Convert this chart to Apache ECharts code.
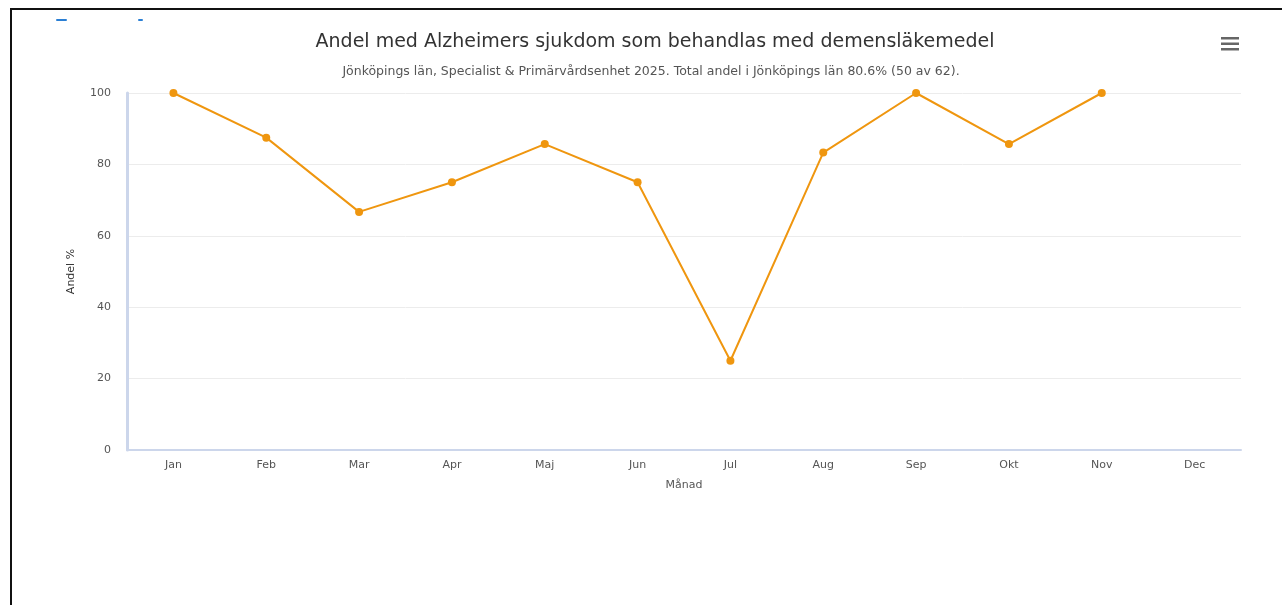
<!DOCTYPE html>
<html>
<head>
<meta charset="utf-8">
<script src="https://cdn.jsdelivr.net/npm/echarts@6/dist/echarts.min.js"></script>
<style>
  html, body { margin: 0; padding: 0; background: #fff; }
  #frame {
    position: absolute; left: 10px; top: 8px; width: 1272px; height: 597px;
    border-top: 2px solid #111; border-left: 2px solid #111; box-sizing: border-box;
  }
  #chart { position: absolute; left: 0; top: 0; width: 1282px; height: 605px; }
</style>
</head>
<body>
<div id="frame"></div>
<div id="chart"></div>
<script>
// 月份和数据
const months = ['Jan', 'Feb', 'Mar', 'Apr', 'Maj', 'Jun', 'Jul', 'Aug', 'Sep', 'Okt', 'Nov', 'Dec'];
const andel = [100, 87.5, 66.7, 75, 85.7, 75, 25, 83.3, 100, 85.7, 100, null];
const yTicks = [0, 20, 40, 60, 80, 100];

const titleText = 'Andel med Alzheimers sjukdom som behandlas med demensläkemedel';
const subText = 'Jönköpings län, Specialist & Primärvårdsenhet 2025. Total andel i Jönköpings län 80.6% (50 av 62).';

const font = '"DejaVu Sans", Verdana, sans-serif';
const chart = echarts.init(document.getElementById('chart'));

const option = {
    animation: false,
    title: [
        {
            text: titleText,
            left: 650, top: 28, textAlign: 'center',
            textStyle: { fontFamily: font, fontSize: 19, fontWeight: 'normal', color: '#333' }
        },
        {
            text: subText,
            left: 646, top: 60, textAlign: 'center',
            textStyle: { fontFamily: font, fontSize: 12.5, fontWeight: 'normal', color: '#555' }
        }
    ],
    grid: { left: 127, right: 41, top: 93, bottom: 155 },
    xAxis: {
        type: 'category',
        data: months,
        boundaryGap: true,
        name: 'Månad',
        nameLocation: 'middle',
        nameGap: 30,
        nameTextStyle: { fontFamily: font, fontSize: 11, color: '#555' },
        axisLine: { lineStyle: { color: '#ccd6eb', width: 2 } },
        axisTick: { show: false },
        axisLabel: { fontFamily: font, fontSize: 11, color: '#555', margin: 10 }
    },
    yAxis: {
        type: 'value',
        min: yTicks[0],
        max: yTicks[yTicks.length - 1],
        interval: 20,
        name: 'Andel %',
        nameLocation: 'middle',
        nameGap: 50,
        nameTextStyle: { fontFamily: font, fontSize: 11, color: '#333' },
        axisLine: { show: true, lineStyle: { color: '#ccd6eb', width: 3 } },
        axisTick: { show: false },
        axisLabel: { fontFamily: font, fontSize: 11, color: '#555', margin: 16 },
        splitLine: { lineStyle: { color: '#ececec', width: 1 } }
    },
    series: [
        {
            name: 'Andel',
            type: 'line',
            data: andel,
            symbol: 'circle',
            symbolSize: 8,
            lineStyle: { color: '#ef960f', width: 2 },
            itemStyle: { color: '#ef960f' }
        }
    ],
    graphic: [
        // 右上角菜单图标
        { type: 'rect', shape: { x: 1221, y: 37, width: 18, height: 2.5 }, style: { fill: '#666' } },
        { type: 'rect', shape: { x: 1221, y: 42.5, width: 18, height: 2.5 }, style: { fill: '#666' } },
        { type: 'rect', shape: { x: 1221, y: 48, width: 18, height: 2.5 }, style: { fill: '#666' } },
        // 左上角被裁切的蓝色残影
        { type: 'rect', shape: { x: 56, y: 19, width: 11, height: 2, r: 1 }, style: { fill: '#2a7fd4' } },
        { type: 'rect', shape: { x: 138, y: 19, width: 5, height: 2, r: 1 }, style: { fill: '#2a7fd4' } }
    ]
};

chart.setOption(option);
</script>
</body>
</html>
